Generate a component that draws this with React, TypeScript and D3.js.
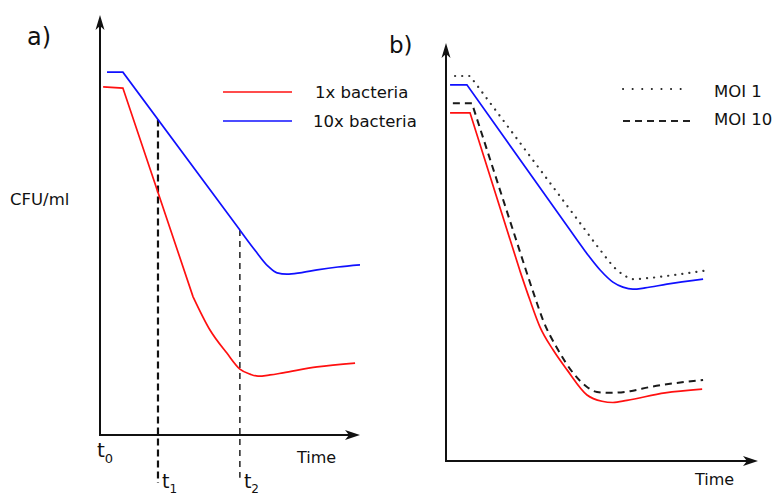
import React from "react";
import * as d3 from "d3";

type Pt = [number, number];

// Panel a: kill curves for two bacterial densities (time, log CFU/ml)
const bacteria1xDecline: Pt[] = [[0.12, 8.29], [0.88, 8.26], [3.58, 3.29]];
const bacteria1xRegrowth: Pt[] = [
  [3.58, 3.29], [4.23, 2.5], [4.88, 1.95], [5.38, 1.57], [5.77, 1.45], [6.08, 1.4],
  [6.54, 1.43], [7.04, 1.48], [8.35, 1.62], [9.81, 1.71],
];
const bacteria10xDecline: Pt[] = [[0.27, 8.64], [0.88, 8.64], [5.38, 4.88]];
const bacteria10xRegrowth: Pt[] = [
  [5.38, 4.88], [5.96, 4.4], [6.46, 4.02], [6.81, 3.86], [7.19, 3.83], [7.69, 3.86],
  [8.35, 3.93], [9.15, 4.0], [10, 4.05],
];

// Marker times and how far below the axis their guides extend
const markerTimes = [2.23, 5.38];
const markerBottoms = [-1.14, -1.02];
const markerLabels = ["1", "2"];

// Panel b: the same densities at two phage multiplicities of infection
const b1xDecline: Pt[] = [[0.13, 8.33], [0.77, 8.33], [2.37, 4.55]];
const b1xRegrowth: Pt[] = [
  [2.37, 4.55], [2.69, 3.85], [3.01, 3.21], [3.43, 2.66], [3.88, 2.18], [4.52, 1.58],
  [5.0, 1.43], [5.35, 1.4], [5.8, 1.45], [7.02, 1.63], [8.21, 1.72],
];
const b10xDecline: Pt[] = [[0.13, 9.0], [0.67, 9.0], [3.97, 5.53]];
const b10xRegrowth: Pt[] = [
  [3.97, 5.53], [4.46, 5.02], [4.94, 4.57], [5.35, 4.28], [5.67, 4.16], [5.99, 4.11],
  [6.38, 4.14], [7.08, 4.23], [8.24, 4.35],
];
const moi1Decline: Pt[] = [[0.29, 9.21], [0.77, 9.21], [4.46, 5.53]];
const moi1Regrowth: Pt[] = [
  [4.46, 5.53], [4.94, 5.05], [5.48, 4.57], [5.74, 4.43], [5.99, 4.35], [6.54, 4.38],
  [7.5, 4.47], [8.46, 4.57],
];
const moi10Decline: Pt[] = [[0.22, 8.56], [0.83, 8.56], [2.56, 4.57]];
const moi10Regrowth: Pt[] = [
  [2.56, 4.57], [2.85, 3.92], [3.11, 3.37], [3.59, 2.66], [4.07, 2.11], [4.52, 1.77],
  [4.84, 1.65], [5.26, 1.63], [5.9, 1.67], [6.54, 1.77], [8.24, 1.94],
];

const legendA = ["1x bacteria", "10x bacteria"];
const legendB = ["MOI 1", "MOI 10"];

const FONT = "DejaVu Sans, Verdana, sans-serif";
const RED = "#ff1010";
const BLUE = "#1010ff";
const INK = "#111";

function curvePath(
  x: d3.ScaleLinear<number, number>,
  y: d3.ScaleLinear<number, number>,
  decline: Pt[],
  regrowth: Pt[]
) {
  const straight = d3.line<Pt>().x((d) => x(d[0])).y((d) => y(d[1])).curve(d3.curveLinear);
  const smooth = d3.line<Pt>().x((d) => x(d[0])).y((d) => y(d[1])).curve(d3.curveMonotoneX);
  return (straight(decline) || "") + (smooth(regrowth) || "").replace(/^M/, "L");
}

function valueAt(series: Pt[], t: number) {
  const s = d3.scaleLinear().domain(series.map((d) => d[0])).range(series.map((d) => d[1]));
  return s(t);
}

function Axes({ x, y }: { x: d3.ScaleLinear<number, number>; y: d3.ScaleLinear<number, number> }) {
  const [x0, x1] = x.range();
  const [y0, y1] = y.range();
  return (
    <g>
      <line x1={x0} y1={y0} x2={x1 - 6} y2={y0} stroke={INK} strokeWidth={2} />
      <line x1={x0} y1={y0 + 1} x2={x0} y2={y1 + 6} stroke={INK} strokeWidth={2} />
      <path d={`M${x1},${y0} L${x1 - 15},${y0 - 5} L${x1 - 11},${y0} L${x1 - 15},${y0 + 5} Z`} fill={INK} />
      <path d={`M${x0},${y1} L${x0 - 4.5},${y1 + 15} L${x0},${y1 + 11} L${x0 + 4.5},${y1 + 15} Z`} fill={INK} />
    </g>
  );
}

export default function App() {
  const xa = d3.scaleLinear().domain([0, 10]).range([100, 360]);
  const ya = d3.scaleLinear().domain([0, 10]).range([435, 15]);
  const xb = d3.scaleLinear().domain([0, 10]).range([446, 758]);
  const yb = d3.scaleLinear().domain([0, 10]).range([461, 43]);

  const blueA = [...bacteria10xDecline, ...bacteria10xRegrowth.slice(1)];

  return (
    <svg
      width={779}
      height={497}
      style={{ position: "absolute", left: 0, top: 0, background: "#fff" }}
      fontFamily={FONT}
    >
      {/* Panel a */}
      <text x={27} y={45} fontSize={24} fill={INK}>a)</text>
      <text x={10} y={205} fontSize={16.5} fill={INK}>CFU/ml</text>
      <Axes x={xa} y={ya} />
      {markerTimes.map((t, i) => (
        <line
          key={i}
          x1={xa(t)}
          x2={xa(t)}
          y1={ya(valueAt(blueA, t))}
          y2={ya(markerBottoms[i])}
          stroke={INK}
          strokeWidth={i === 0 ? 2.2 : 1.4}
          strokeDasharray={i === 0 ? "7,4" : "6,5"}
        />
      ))}
      <path d={curvePath(xa, ya, bacteria1xDecline, bacteria1xRegrowth)} fill="none" stroke={RED} strokeWidth={1.7} />
      <path d={curvePath(xa, ya, bacteria10xDecline, bacteria10xRegrowth)} fill="none" stroke={BLUE} strokeWidth={1.7} />
      <text x={xa(0) - 3} y={457} fontSize={20} fill={INK}>
        t<tspan fontSize={13} dy={6}>0</tspan>
      </text>
      {markerTimes.map((t, i) => (
        <text key={i} x={xa(t) + 4} y={488} fontSize={19} fill={INK}>
          t<tspan fontSize={12} dy={5}>{markerLabels[i]}</tspan>
        </text>
      ))}
      <text x={297} y={463} fontSize={16} fill={INK}>Time</text>
      {legendA.map((label, i) => (
        <g key={label}>
          <line x1={223} x2={292} y1={92 + i * 29} y2={92 + i * 29} stroke={i === 0 ? RED : BLUE} strokeWidth={1.7} />
          <text x={i === 0 ? 315 : 313} y={98 + i * 29} fontSize={16.5} fill={INK}>{label}</text>
        </g>
      ))}

      {/* Panel b */}
      <text x={389} y={53} fontSize={23} fill={INK}>b)</text>
      <Axes x={xb} y={yb} />
      <path d={curvePath(xb, yb, moi1Decline, moi1Regrowth)} fill="none" stroke="#333" strokeWidth={2.2}
        strokeLinecap="round" strokeDasharray="0.1,7" />
      <path d={curvePath(xb, yb, moi10Decline, moi10Regrowth)} fill="none" stroke="#1a1a1a" strokeWidth={2}
        strokeDasharray="7,5" />
      <path d={curvePath(xb, yb, b1xDecline, b1xRegrowth)} fill="none" stroke={RED} strokeWidth={1.7} />
      <path d={curvePath(xb, yb, b10xDecline, b10xRegrowth)} fill="none" stroke={BLUE} strokeWidth={1.7} />
      <text x={695} y={485} fontSize={16} fill={INK}>Time</text>
      {legendB.map((label, i) => (
        <g key={label}>
          <line x1={623} x2={690} y1={89 + i * 32} y2={89 + i * 32} stroke="#222"
            strokeWidth={2}
            strokeLinecap={i === 0 ? "round" : "butt"}
            strokeDasharray={i === 0 ? "0.1,9.5" : "7,5"} />
          <text x={714} y={97 + i * 28} fontSize={16.5} fill={INK}>{label}</text>
        </g>
      ))}
    </svg>
  );
}
